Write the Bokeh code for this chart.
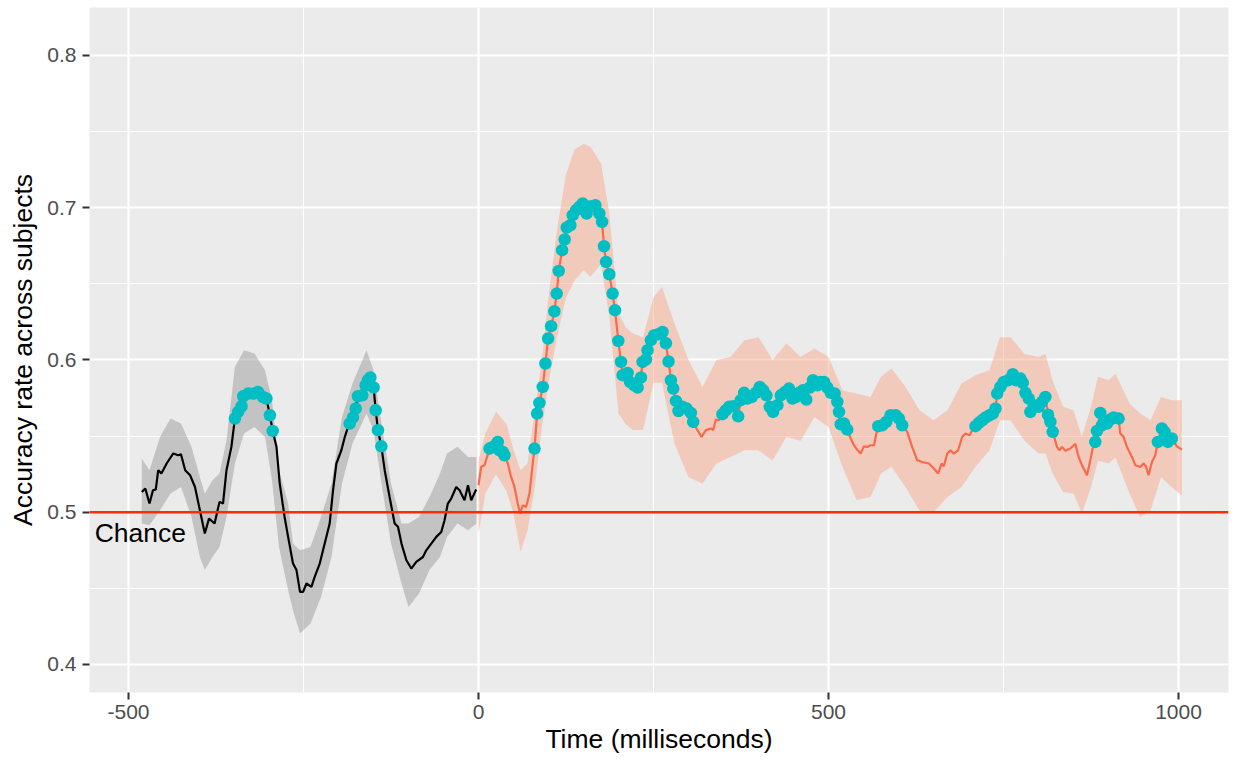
from bokeh.plotting import figure
from bokeh.models import Range1d, FixedTicker, Span, Label
from bokeh.embed import file_html
from bokeh.resources import INLINE

# ---------------- data ----------------
# pre-stimulus mean accuracy (non-significant samples)
pre_time = [-481, -476, -470, -465, -461, -457.5, -453, -445.5, -436, -429, -425, -419, -412, -405, -398, -391, -385, -377, -370, -365, -360, -353,
            -288.6, -284, -277, -272, -265, -260, -255, -250.6, -245.8, -238.7, -234, -226.8, -219.7, -212.6, -207.8, -203, -195.9, -191, -186.4,
            -134, -127, -119.8, -115, -110, -103, -96, -88.9, -79.4, -74.6, -67.5, -60.3, -53.2, -48.5, -43.8, -39, -31.8, -27, -20, -15, -10.4, -3.3]
pre_acc = [0.5133, 0.5156, 0.5057, 0.5144, 0.5150, 0.5276, 0.5254, 0.5320, 0.5386, 0.5374, 0.5380, 0.5276, 0.5243, 0.5166, 0.5013, 0.4860, 0.4958, 0.4926, 0.5068, 0.5057, 0.5276, 0.5430,
           0.5430, 0.5190, 0.4969, 0.4838, 0.4663, 0.4620, 0.4477, 0.4477, 0.4532, 0.4510, 0.4575, 0.4663, 0.4794, 0.4926, 0.5144, 0.5320, 0.5407, 0.5494, 0.5560,
           0.5276, 0.5100, 0.4926, 0.4904, 0.4794, 0.4685, 0.4630, 0.4674, 0.4706, 0.4750, 0.4794, 0.4838, 0.4870, 0.4947, 0.5057, 0.5090, 0.5166, 0.5144, 0.5079, 0.5177, 0.5079, 0.5149]

# pre-stimulus significant samples
pre_sig_time = [-348, -343.3, -338.5, -336, -329, -322, -315, -308, -303, -298, -294,
                -184, -179.3, -175.5, -172.2, -166, -161.2, -157.9, -154.5, -149.8, -146.9, -143.6, -138.8]
pre_sig_acc = [0.5615, 0.5659, 0.5696, 0.5762, 0.5779, 0.5779, 0.5790, 0.5757, 0.5747, 0.5637, 0.5534,
               0.5583, 0.5622, 0.5681, 0.5762, 0.5768, 0.5834, 0.5867, 0.5885, 0.5819, 0.5670, 0.5539, 0.5433]

# post-stimulus mean accuracy (non-significant samples)
post_time = [0, 3.8, 8.6, 12,
             41.8, 46.6, 51.4, 56, 59.5, 63.2, 68, 72.8, 77,
             312.8, 318.6, 324.8, 332, 335.2, 339, 343.8,
             531.7, 536.4, 541, 546, 550.6, 555.4, 560.2, 565, 568.3,
             612.4, 619.5, 626.7, 633.8, 643.4, 650.5, 656.6, 661.5, 664.8, 669.5, 674.3, 679, 685.2, 690.9, 695.7, 701.4, 705.3,
             826.4, 829.8, 833.6, 838.4, 845.5, 852.6, 857.3, 862.1, 869.2, 874, 877.3,
             916.8, 921.5, 926.3, 933.5, 938.2, 945.4, 950.1, 953.4, 957.2, 962, 966.8,
             997.6, 1004.7]
post_acc = [0.5177, 0.5298, 0.5309, 0.5360,
            0.5320, 0.5232, 0.5166, 0.5057, 0.4991, 0.5046, 0.5035, 0.5123, 0.5300,
            0.5539, 0.5495, 0.5539, 0.5550, 0.5539, 0.5609, 0.5604,
            0.5484, 0.5440, 0.5410, 0.5385, 0.5433, 0.5429, 0.5440, 0.5440, 0.5517,
            0.5528, 0.5429, 0.5342, 0.5330, 0.5320, 0.5287, 0.5254, 0.5320, 0.5302, 0.5385, 0.5407, 0.5385, 0.5407, 0.5494, 0.5517, 0.5506, 0.5539,
            0.5429, 0.5407, 0.5429, 0.5403, 0.5418, 0.5450, 0.5363, 0.5309, 0.5243, 0.5342, 0.5418,
            0.5517, 0.5495, 0.5429, 0.5363, 0.5309, 0.5298, 0.5320, 0.5302, 0.5243, 0.5330, 0.5374,
            0.5433, 0.5412]

# post-stimulus significant samples
post_sig_time = [15.7, 20.4, 27.5, 30, 34.7, 37.1,
                 80, 83.7, 87, 91.8, 95.6, 99.4, 103.7, 108.4, 111.7, 114.6, 119.4, 123.1, 126, 131.2, 134.6,
                 139.4, 144, 148.8, 154.5, 160.8, 166.9, 172.6, 176.5, 179.3, 182.2, 186.9, 191.6, 195, 199.7, 203.6,
                 205.9, 213, 216.4, 222.5, 227.3, 232.1, 234.4, 239.2, 241.5, 246.3, 251, 256.8, 262.9, 267.7, 271.5,
                 274.9, 278.2, 282, 285.7, 291.4, 297.1, 303.4, 306.7,
                 348.5, 353.3, 358, 363.8, 370.9, 374.7, 379.5, 384.2, 390.4, 396.1, 401.9, 406.6, 411.4, 416.1, 420.8,
                 427, 431.8, 438, 443.6, 448.4, 453.2, 457.9, 463.6, 468.3, 473.2, 477.9, 484, 488.9, 493.6, 498.3,
                 503.2, 508.8, 512.6, 515, 517.5, 522.1, 526.8,
                 571.1, 576.8, 582.5, 588.7, 595.9, 600.6, 605.3,
                 710, 714.7, 719.5, 724.2, 730, 734.7, 738.5, 741, 745.6, 750.4, 756.5, 763.2, 768, 774.2, 777.5,
                 781.3, 786, 788.4, 793.2, 800.3, 805, 809.8, 813.6, 817, 820.3,
                 881.1, 883.5, 888.3, 890.6, 897.7, 902.5, 907.3, 914.4,
                 970.5, 976.2, 980, 984.8, 990.5]
post_sig_acc = [0.5418, 0.5429, 0.5462, 0.5407, 0.5396, 0.5374,
                0.5418, 0.5648, 0.5718, 0.5823, 0.5977, 0.6141, 0.6222, 0.6320, 0.6436, 0.6585, 0.6721, 0.6791, 0.6870, 0.6885, 0.6951,
                0.6984, 0.7005, 0.7028, 0.6962, 0.7010, 0.7016, 0.6962, 0.6907, 0.6747, 0.6644, 0.6563, 0.6436, 0.6327, 0.6125, 0.5987,
                0.5900, 0.5915, 0.5856, 0.5834, 0.5819, 0.5885, 0.5987, 0.6003, 0.6064, 0.6130, 0.6163, 0.6169, 0.6184, 0.6110, 0.5990,
                0.5867, 0.5812, 0.5731, 0.5665, 0.5692, 0.5681, 0.5652, 0.5593,
                0.5644, 0.5670, 0.5692, 0.5696, 0.5630, 0.5736, 0.5784, 0.5747, 0.5757, 0.5784, 0.5823, 0.5801, 0.5768, 0.5692, 0.5659,
                0.5703, 0.5768, 0.5790, 0.5812, 0.5747, 0.5757, 0.5784, 0.5801, 0.5740, 0.5819, 0.5867, 0.5834, 0.5856, 0.5856, 0.5819,
                0.5784, 0.5780, 0.5725, 0.5659, 0.5578, 0.5583, 0.5543,
                0.5565, 0.5571, 0.5593, 0.5637, 0.5637, 0.5615, 0.5571,
                0.5565, 0.5587, 0.5604, 0.5622, 0.5637, 0.5648, 0.5681, 0.5780, 0.5823, 0.5856, 0.5867, 0.5906, 0.5867, 0.5878, 0.5849,
                0.5784, 0.5747, 0.5659, 0.5703, 0.5692, 0.5725, 0.5757, 0.5640, 0.5593, 0.5528,
                0.5462, 0.5534, 0.5652, 0.5571, 0.5583, 0.5609, 0.5622, 0.5615,
                0.5462, 0.5550, 0.5528, 0.5462, 0.5484]

# error bands (lower / upper edge)
pre_band_time = [-481, -470, -455, -440, -425, -410, -398, -391, -380, -370,
                 -360, -348, -335, -320, -305, -295, -285, -272, -265, -255,
                 -240, -225, -210, -195, -180, -160, -150, -140, -125, -110,
                 -100, -85, -70, -55, -45, -30, -15, -3]
pre_band_lo = [0.4926, 0.4915, 0.5013, 0.5123, 0.5166, 0.4969, 0.4706, 0.4620, 0.4706, 0.4772,
               0.4969, 0.5320, 0.5517, 0.5560, 0.5494, 0.5210, 0.4772, 0.4488, 0.4356, 0.4203,
               0.4269, 0.4444, 0.4706, 0.5188, 0.5451, 0.5648, 0.5540, 0.5232, 0.4794, 0.4532,
               0.4378, 0.4466, 0.4620, 0.4706, 0.4838, 0.4926, 0.4882, 0.4926]
pre_band_hi = [0.5353, 0.5276, 0.5494, 0.5615, 0.5583, 0.5430, 0.5232, 0.5123, 0.5210, 0.5254,
               0.5473, 0.5955, 0.6064, 0.6042, 0.5933, 0.5736, 0.5276, 0.5057, 0.4794, 0.4750,
               0.4772, 0.4969, 0.5188, 0.5626, 0.5845, 0.6064, 0.5933, 0.5626, 0.5188, 0.4926,
               0.4926, 0.4969, 0.5100, 0.5254, 0.5385, 0.5430, 0.5363, 0.5363]

post_band_time = [0, 10, 25, 40, 50, 60, 70, 80, 90, 100,
                  112, 125, 137, 150, 160, 175, 187, 200, 210, 220,
                  235, 250, 262, 280, 300, 320, 340, 360, 380, 400,
                  420, 440, 460, 480, 500, 520, 540, 560, 575, 590,
                  610, 630, 650, 670, 690, 710, 730, 745, 760, 780,
                  800, 810, 820, 835, 850, 862, 875, 885, 900, 910,
                  930, 945, 960, 975, 990, 1004.7]
post_band_lo = [0.4860, 0.5125, 0.5250, 0.5140, 0.4990, 0.4740, 0.4880, 0.5150, 0.5540, 0.5850,
                0.6150, 0.6410, 0.6520, 0.6590, 0.6546, 0.6630, 0.6280, 0.5650, 0.5580, 0.5540,
                0.5540, 0.5850, 0.5850, 0.5450, 0.5230, 0.5188, 0.5320, 0.5363, 0.5407, 0.5407,
                0.5340, 0.5495, 0.5470, 0.5626, 0.5560, 0.5298, 0.5080, 0.5100, 0.5254, 0.5298,
                0.5166, 0.5010, 0.5000, 0.5100, 0.5166, 0.5298, 0.5407, 0.5604, 0.5604, 0.5470,
                0.5385, 0.5385, 0.5254, 0.5133, 0.5123, 0.4990, 0.5166, 0.5340, 0.5320, 0.5360,
                0.5123, 0.4969, 0.5010, 0.5232, 0.5166, 0.5110]
post_band_hi = [0.5340, 0.5520, 0.5660, 0.5580, 0.5410, 0.5276, 0.5320, 0.5650, 0.5980, 0.6410,
                0.6850, 0.7220, 0.7380, 0.7420, 0.7400, 0.7290, 0.6960, 0.6307, 0.6217, 0.6176,
                0.6150, 0.6410, 0.6480, 0.6240, 0.6000, 0.5823, 0.6000, 0.6020, 0.6130, 0.6150,
                0.6000, 0.6110, 0.6020, 0.6075, 0.6020, 0.5800, 0.5780, 0.5757, 0.5890, 0.5944,
                0.5823, 0.5670, 0.5604, 0.5670, 0.5845, 0.5900, 0.5933, 0.6150, 0.6150, 0.6040,
                0.6020, 0.6040, 0.5867, 0.5692, 0.5670, 0.5495, 0.5692, 0.5890, 0.5867, 0.5910,
                0.5714, 0.5650, 0.5604, 0.5757, 0.5736, 0.5736]

chance_level = 0.5
chance_text = "Chance"
chance_text_x = -483
chance_text_y = 0.4862

x_ticks = [-500, 0, 500, 1000]
x_tick_labels = ["-500", "0", "500", "1000"]
x_minor = [-250, 250, 750]
y_ticks = [0.4, 0.5, 0.6, 0.7, 0.8]
y_tick_labels = ["0.4", "0.5", "0.6", "0.7", "0.8"]
y_minor = [0.45, 0.55, 0.65, 0.75]

x_title = "Time (milliseconds)"
y_title = "Accuracy rate across subjects"

# ---------------- build lines (merge sig + non-sig samples) ----------------
pre_pairs = sorted(zip(pre_time + pre_sig_time, pre_acc + pre_sig_acc))
post_pairs = sorted(zip(post_time + post_sig_time, post_acc + post_sig_acc))
pre_line_x = [t for t, a in pre_pairs]
pre_line_y = [a for t, a in pre_pairs]
post_line_x = [t for t, a in post_pairs]
post_line_y = [a for t, a in post_pairs]

FONT = "Liberation Sans"

p = figure(frame_width=1139, frame_height=685,
           x_range=Range1d(-555.7, 1071.4), y_range=Range1d(0.3816, 0.8315),
           output_backend="svg", toolbar_location=None,
           min_border_left=89, min_border_right=2, min_border_top=7, min_border_bottom=64)
p.background_fill_color = "#EBEBEB"
p.border_fill_color = "white"
p.outline_line_color = None

# ribbons
p.varea(x=pre_band_time, y1=pre_band_lo, y2=pre_band_hi, fill_color="#8C8C8C", fill_alpha=0.42)
p.varea(x=post_band_time, y1=post_band_lo, y2=post_band_hi, fill_color="#F8A98E", fill_alpha=0.5)

# lines
p.line(pre_line_x, pre_line_y, line_color="black", line_width=2.2)
p.line(post_line_x, post_line_y, line_color="#F96A4C", line_width=2.2)

# significant points
p.scatter(pre_sig_time + post_sig_time, pre_sig_acc + post_sig_acc,
          size=12.5, fill_color="#00BFC4", line_color="#00BFC4", line_width=0)

# chance line and label
p.add_layout(Span(location=chance_level, dimension="width", line_color="#FF2A0A", line_width=2.4))
p.add_layout(Label(x=chance_text_x, y=chance_text_y, text=chance_text, text_align="center",
                   text_baseline="middle", text_font=FONT, text_font_size="26.5px", text_color="black"))

# axes
p.xaxis.ticker = FixedTicker(ticks=x_ticks, minor_ticks=x_minor)
p.yaxis.ticker = FixedTicker(ticks=y_ticks, minor_ticks=y_minor)
p.xaxis.major_label_overrides = dict(zip(x_ticks, x_tick_labels))
p.yaxis.major_label_overrides = dict(zip(y_ticks, y_tick_labels))
p.xaxis.axis_label = x_title
p.yaxis.axis_label = y_title

for ax in (p.xaxis[0], p.yaxis[0]):
    ax.axis_line_color = None
    ax.major_tick_line_color = "#333333"
    ax.major_tick_line_width = 2
    ax.major_tick_out = 7
    ax.major_tick_in = 0
    ax.minor_tick_out = 0
    ax.minor_tick_in = 0
    ax.major_label_text_font = FONT
    ax.major_label_text_font_size = "21px"
    ax.major_label_text_color = "#4D4D4D"
    ax.axis_label_text_font = FONT
    ax.axis_label_text_font_size = "26.5px"
    ax.axis_label_text_color = "black"
    ax.axis_label_text_font_style = "normal"

p.xaxis.major_label_standoff = 5
p.xaxis.axis_label_standoff = 2
p.yaxis.major_label_standoff = 6
p.yaxis.axis_label_standoff = 6

for g in (p.xgrid[0], p.ygrid[0]):
    g.grid_line_color = "white"
    g.grid_line_width = 2.2
    g.minor_grid_line_color = "white"
    g.minor_grid_line_width = 1.1

open("out.html", "w").write(file_html(p, INLINE))
